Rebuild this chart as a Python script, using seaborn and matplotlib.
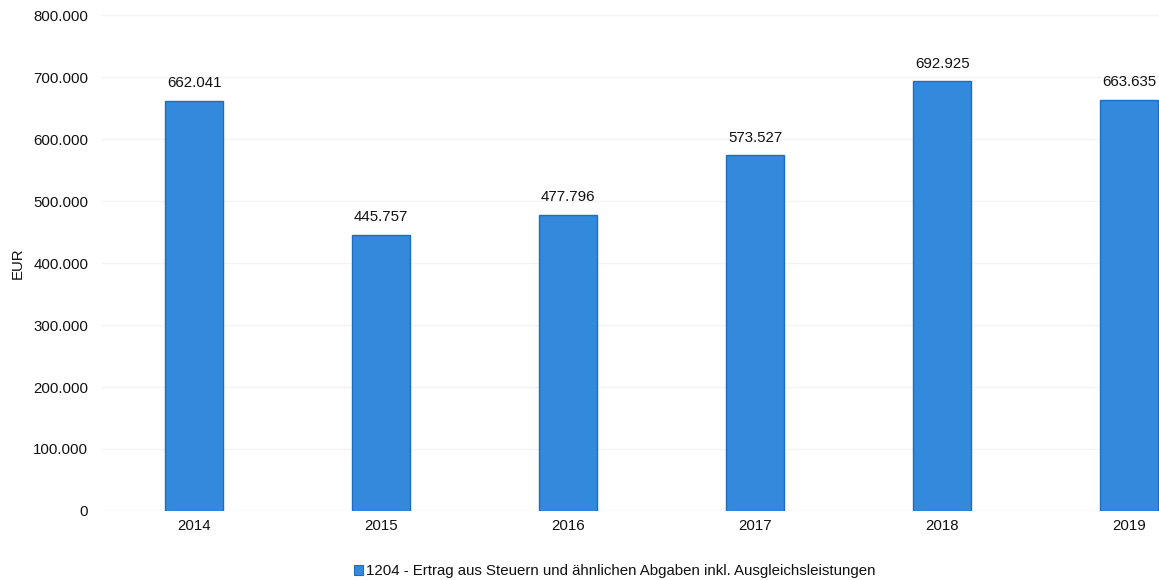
import matplotlib
matplotlib.use("Agg")
import matplotlib.pyplot as plt
import seaborn as sns
import pandas as pd
from matplotlib.ticker import FuncFormatter, MultipleLocator
from matplotlib.patches import Patch

years = ["2014", "2015", "2016", "2017", "2018", "2019"]
values = [662041, 445757, 477796, 573527, 692925, 663635]
series_name = "1204 - Ertrag aus Steuern und ähnlichen Abgaben inkl. Ausgleichsleistungen"

df = pd.DataFrame({"Jahr": years, "EUR": values})

sns.set_theme(style="white")
plt.rcParams["font.family"] = ["Liberation Sans", "DejaVu Sans"]

fig = plt.figure(figsize=(11.59, 5.80), dpi=100)
ax = fig.add_axes([0.087, 0.119, 0.968, 0.855])

bar_color = "#3389dc"
edge_color = "#1e6cc4"
fs = 10.8
sns.barplot(data=df, x="Jahr", y="EUR", color=bar_color, width=0.31,
            edgecolor=edge_color, linewidth=1.0, saturation=1, ax=ax, zorder=3)

def de_fmt(v, pos=None):
    return f"{int(round(v)):,}".replace(",", ".")

ax.set_ylim(0, 800000)
ax.yaxis.set_major_locator(MultipleLocator(100000))
ax.yaxis.set_major_formatter(FuncFormatter(de_fmt))
ax.grid(axis="y", color="#f4f4f4", linewidth=1.0, zorder=0)
ax.set_xlim(-0.5, 5.5)

for i, v in enumerate(values):
    ax.text(i, v + 17000, de_fmt(v), ha="center", va="bottom",
            fontsize=fs, color="#111111")

for s in ax.spines.values():
    s.set_visible(False)

ax.tick_params(axis="both", length=0, labelsize=fs, colors="#111111")
ax.tick_params(axis="y", pad=9)
ax.tick_params(axis="x", pad=6)
ax.set_xlabel("")
ax.set_ylabel("EUR", fontsize=fs, color="#111111", labelpad=6)

handle = Patch(facecolor=bar_color, edgecolor=edge_color, linewidth=0.8)
fig.legend([handle], [series_name], loc="center", bbox_to_anchor=(0.53, 0.015),
           frameon=False, fontsize=fs, handlelength=0.6, handleheight=0.6,
           handletextpad=0.2, labelcolor="#111111")

fig.savefig("out.png", dpi=100)
